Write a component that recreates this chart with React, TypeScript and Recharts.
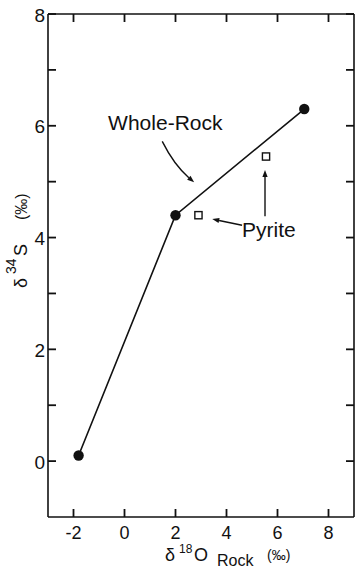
import { ScatterChart, Scatter, XAxis, YAxis, ReferenceLine } from "recharts";

// whole-rock samples (joined by a line) and pyrite separates
const rockX = [-1.8, 2.0, 7.05];
const rockY = [0.1, 4.4, 6.3];
const pyriteX = [2.9, 5.55];
const pyriteY = [4.4, 5.45];

const xDomain = [-3, 9];
const yDomain = [-1, 8];
const xTicks = [-2, 0, 2, 4, 6, 8];
const yTicks = [0, 1, 2, 3, 4, 5, 6, 7, 8];

// callout text and the arrows pointing at the series
const noteText = ["Whole-Rock", "Pyrite"];
const noteX = [1.6, 5.66];
const noteY = [6.05, 4.15];
const arrowFrom = [[1.48, 5.72], [4.61, 4.22], [5.51, 4.38]];
const arrowTo = [[2.73, 4.99], [3.44, 4.33], [5.51, 5.21]];
const arrowBend = [0.1, 0, 0];

const INK = "#111";
const TICK_FONT = "'Liberation Sans', Arial, sans-serif";
const NOTE_FONT = "'Liberation Sans Narrow', 'Liberation Sans', sans-serif";

const rock = rockX.map((x, i) => ({ x, y: rockY[i] }));
const pyrite = pyriteX.map((x, i) => ({ x, y: pyriteY[i] }));
const notes = noteText.map((text, i) => ({ x: noteX[i], y: noteY[i], text }));

// tick marks sit on the frame edges and point inward
const bottomMarks = xTicks.map((x) => ({ x, y: yDomain[0] }));
const topMarks = xTicks.map((x) => ({ x, y: yDomain[1] }));
const leftMarks = yTicks.map((y) => ({ x: xDomain[0], y }));
const rightMarks = yTicks.map((y) => ({ x: xDomain[1], y }));

const TL = 8;
const axisLine = { stroke: INK, strokeWidth: 1.6 };

const markShape = (dx: number, dy: number) => (p: any) => (
  <path d={`M${p.cx},${p.cy}L${p.cx + dx * TL},${p.cy + dy * TL}`} fill="none" stroke={INK} strokeWidth={1.8} />
);

const BottomTick = (p: any) => (
  <text x={p.x} y={p.y + 16} textAnchor="middle" dominantBaseline="central" fontSize={18} fontFamily={TICK_FONT} fill={INK}>
    {p.payload.value}
  </text>
);

const LeftTick = (p: any) =>
  p.payload.value % 2 === 0 ? (
    <text x={p.x - 3} y={p.y + 1} textAnchor="end" dominantBaseline="central" fontSize={19} fontFamily={TICK_FONT} fill={INK}>
      {p.payload.value}
    </text>
  ) : (
    <g />
  );

const NoLabel = () => <g />;

const XTitle = () => (
  <text fontFamily={TICK_FONT} fill={INK}>
    <tspan x={165} y={561} fontSize={18}>δ</tspan>
    <tspan x={179} y={553} fontSize={12}>18</tspan>
    <tspan x={194} y={561} fontSize={18}>O</tspan>
    <tspan x={217} y={566} fontSize={16}>Rock</tspan>
    <tspan x={267} y={560} fontSize={14}>(‰)</tspan>
  </text>
);

const YTitle = () => (
  <text transform="translate(27 288) rotate(-90)" fontFamily={TICK_FONT} fill={INK}>
    <tspan x={0} y={0} fontSize={18}>δ</tspan>
    <tspan x={14} y={-11} fontSize={14}>34</tspan>
    <tspan x={32} y={0} fontSize={18}>S</tspan>
    <tspan x={68} y={0} fontSize={16}>(‰)</tspan>
  </text>
);

const Dot = (p: any) => <circle cx={p.cx} cy={p.cy} r={5.2} fill={INK} />;

const Box = (p: any) => (
  <rect x={p.cx - 3.6} y={p.cy - 3.6} width={7.2} height={7.2} fill="#fff" stroke={INK} strokeWidth={1.4} />
);

const Note = (p: any) => (
  <text x={p.cx} y={p.cy} textAnchor="middle" dominantBaseline="central" fontSize={21} fontFamily={NOTE_FONT} fill={INK}>
    {p.payload.text}
  </text>
);

const arrowShape = (bend: number) => (p: any) => {
  const { x1, y1, x2, y2 } = p;
  const dx = x2 - x1;
  const dy = y2 - y1;
  const len = Math.hypot(dx, dy) || 1;
  const cx = (x1 + x2) / 2 - (dy / len) * bend * len;
  const cy = (y1 + y2) / 2 + (dx / len) * bend * len;
  const tx = x2 - cx;
  const ty = y2 - cy;
  const tl = Math.hypot(tx, ty) || 1;
  const ex = tx / tl;
  const ey = ty / tl;
  const hl = 7;
  const hw = 2.6;
  const bx = x2 - ex * hl;
  const by = y2 - ey * hl;
  return (
    <g>
      <path d={`M${x1},${y1} Q${cx},${cy} ${bx},${by}`} fill="none" stroke={INK} strokeWidth={1.4} />
      <path d={`M${x2},${y2} L${bx - ey * hw},${by + ex * hw} L${bx + ey * hw},${by - ex * hw} Z`} fill={INK} />
    </g>
  );
};

export default function App() {
  return (
    <div style={{ position: "absolute", left: 0, top: 0, width: 356, height: 570, background: "#fff" }}>
      <ScatterChart width={356} height={570} margin={{ top: 12, right: 0, bottom: 0, left: 0 }}>
        <XAxis
          xAxisId="b"
          type="number"
          dataKey="x"
          domain={xDomain}
          ticks={xTicks}
          interval={0}
          height={53}
          tickLine={false}
          tickSize={0}
          tickMargin={0}
          axisLine={axisLine}
          tick={BottomTick}
          label={{ content: XTitle }}
        />
        <XAxis
          xAxisId="t"
          orientation="top"
          type="number"
          dataKey="x"
          domain={xDomain}
          ticks={xTicks}
          height={2}
          tickLine={false}
          axisLine={axisLine}
          tick={NoLabel}
        />
        <YAxis
          yAxisId="l"
          type="number"
          dataKey="y"
          domain={yDomain}
          ticks={yTicks}
          interval={0}
          width={48}
          tickLine={false}
          tickSize={0}
          tickMargin={0}
          axisLine={axisLine}
          tick={LeftTick}
          label={{ content: YTitle }}
        />
        <YAxis
          yAxisId="r"
          orientation="right"
          type="number"
          dataKey="y"
          domain={yDomain}
          ticks={yTicks}
          width={2}
          tickLine={false}
          axisLine={axisLine}
          tick={NoLabel}
        />
        {arrowFrom.map((from, i) => (
          <ReferenceLine
            key={i}
            xAxisId="b"
            yAxisId="l"
            segment={[
              { x: from[0], y: from[1] },
              { x: arrowTo[i][0], y: arrowTo[i][1] },
            ]}
            shape={arrowShape(arrowBend[i])}
          />
        ))}
        <Scatter xAxisId="b" yAxisId="l" data={bottomMarks} shape={markShape(0, -1)} isAnimationActive={false} />
        <Scatter xAxisId="b" yAxisId="l" data={topMarks} shape={markShape(0, 1)} isAnimationActive={false} />
        <Scatter xAxisId="b" yAxisId="l" data={leftMarks} shape={markShape(1, 0)} isAnimationActive={false} />
        <Scatter xAxisId="b" yAxisId="l" data={rightMarks} shape={markShape(-1, 0)} isAnimationActive={false} />
        <Scatter
          xAxisId="b"
          yAxisId="l"
          data={rock}
          line={{ stroke: INK, strokeWidth: 1.6 }}
          shape={Dot}
          isAnimationActive={false}
        />
        <Scatter xAxisId="b" yAxisId="l" data={pyrite} shape={Box} isAnimationActive={false} />
        <Scatter xAxisId="b" yAxisId="l" data={notes} shape={Note} isAnimationActive={false} />
      </ScatterChart>
    </div>
  );
}
